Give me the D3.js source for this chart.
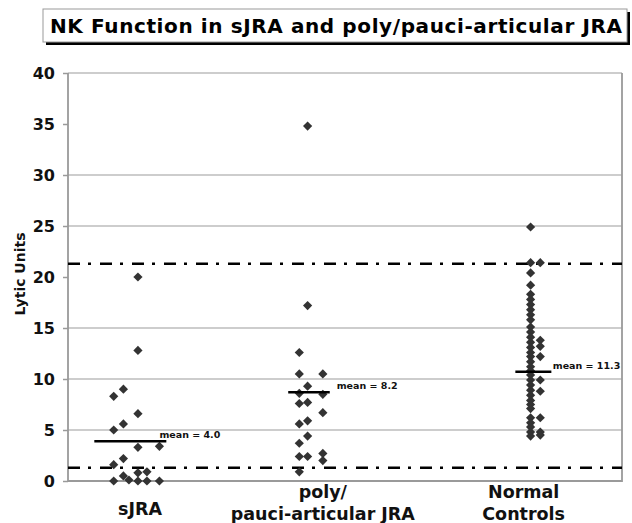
<!DOCTYPE html>
<html>
<head>
<meta charset="utf-8">
<script src="https://cdn.jsdelivr.net/npm/d3@7"></script>
<style>
  body { margin: 0; background: #fff; }
  svg { display: block; font-family: "DejaVu Sans", Verdana, sans-serif; }
</style>
</head>
<body>
<div id="chart"></div>
<script>
// values
const title = "NK Function in sJRA and poly/pauci-articular JRA";
const yLabel = "Lytic Units";
const yTicks = [0, 5, 10, 15, 20, 25, 30, 35, 40];
const gridValues = [5, 10, 15, 25, 30, 40];
const refLines = [21.3, 1.3];

const categories = [["sJRA"], ["poly/", "pauci-articular JRA"], ["Normal", "Controls"]];
const categoryX = [5.2, 18.4, 32.9];

// [x position (jitter), lytic units]
const sjra = [
  [5.05, 20.0], [5.05, 12.8], [4.0, 9.0], [3.3, 8.3], [5.05, 6.6], [4.0, 5.6],
  [3.3, 5.0], [5.05, 3.3], [6.6, 3.4], [4.0, 2.2], [3.3, 1.6], [4.0, 0.5],
  [4.4, 0.1], [5.05, 0.8], [5.7, 0.9], [3.3, 0], [5.05, 0], [5.7, 0], [6.6, 0]
];
const poly = [
  [17.3, 34.8], [17.3, 17.2], [16.7, 12.6], [16.7, 10.5], [18.4, 10.5], [17.3, 9.3],
  [16.7, 8.6], [18.4, 8.5], [16.7, 7.6], [17.3, 7.7], [18.4, 6.7], [16.7, 5.6],
  [17.3, 5.9], [17.3, 4.4], [16.7, 3.7], [16.7, 2.4], [17.3, 2.4], [18.4, 2.7],
  [18.4, 2.0], [16.7, 0.9]
];
const normal = [
  [33.4, 24.9], [33.4, 21.4], [33.4, 20.4], [33.4, 19.2], [33.4, 18.3], [33.4, 17.8],
  [33.4, 17.3], [33.4, 16.8], [33.4, 16.3], [33.4, 15.8], [33.4, 15.1], [33.4, 14.6],
  [33.4, 14.1], [33.4, 13.6], [33.4, 13.1], [33.4, 12.6], [33.4, 12.2], [33.4, 11.7],
  [33.4, 11.2], [33.4, 10.8], [33.4, 10.4], [33.4, 9.9], [33.4, 9.4], [33.4, 8.9],
  [33.4, 8.4], [33.4, 7.9], [33.4, 7.5], [33.4, 7.1], [33.4, 6.2], [33.4, 5.7],
  [33.4, 5.3], [33.4, 4.8], [33.4, 4.4],
  [34.1, 21.4], [34.1, 13.8], [34.1, 13.2], [34.1, 12.2], [34.1, 9.9], [34.1, 8.8],
  [34.1, 6.2], [34.1, 4.8], [34.1, 4.5]
];

const meanY = [3.9, 8.7, 10.7];
const meanX = [[1.9, 7.1], [15.9, 18.9], [32.3, 34.9]];
const meanLabelX = [6.6, 19.4, 35.0];
const meanLabels = ["mean = 4.0", "mean = 8.2", "mean = 11.3"];

const width = 632;
const height = 523;
const marginTop = 73;
const marginRight = 10;
const marginBottom = 42;
const marginLeft = 68;

const x = d3.scaleLinear()
    .domain([0, 40])
    .range([marginLeft, width - marginRight]);

const y = d3.scaleLinear()
    .domain([0, 40])
    .range([height - marginBottom, marginTop]);

const svg = d3.create("svg")
    .attr("width", width)
    .attr("height", height)
    .attr("viewBox", [0, 0, width, height]);

// title box with shadow
const tb = svg.append("g");
tb.append("rect")
    .attr("x", 46).attr("y", 12)
    .attr("width", 584).attr("height", 33)
    .attr("fill", "#000");
tb.append("rect")
    .attr("x", 43).attr("y", 9)
    .attr("width", 584).attr("height", 33)
    .attr("fill", "#fff")
    .attr("stroke", "#999")
    .attr("stroke-width", 1);
tb.append("text")
    .attr("x", 50).attr("y", 33)
    .attr("font-size", 20)
    .attr("font-weight", "bold")
    .attr("fill", "#000")
    .attr("textLength", 572)
    .attr("lengthAdjust", "spacing")
    .text(title);

// gridlines
svg.append("g")
    .attr("stroke", "#bdbdbd")
    .attr("stroke-width", 1.5)
    .selectAll("line")
    .data(gridValues)
    .join("line")
      .attr("x1", marginLeft).attr("x2", width - marginRight)
      .attr("y1", d => y(d)).attr("y2", d => y(d));

// frame: left, right, bottom
svg.append("path")
    .attr("fill", "none")
    .attr("stroke", "#9a9a9a")
    .attr("stroke-width", 1.8)
    .attr("d", `M${marginLeft},${y(40)}V${y(0)}H${width - marginRight}V${y(40)}`);

// y axis
svg.append("g")
    .attr("transform", `translate(${marginLeft},0)`)
    .call(d3.axisLeft(y).tickValues(yTicks).tickSize(5).tickPadding(8))
    .call(g => g.select(".domain").remove())
    .call(g => g.selectAll(".tick line").attr("stroke", "#9a9a9a").attr("stroke-width", 1.5))
    .call(g => g.selectAll(".tick text")
        .attr("font-family", "'DejaVu Sans', Verdana, sans-serif")
        .attr("font-size", 16)
        .attr("font-weight", "bold")
        .attr("fill", "#111"));

svg.append("text")
    .attr("transform", `translate(25,${y(20.3)}) rotate(-90)`)
    .attr("text-anchor", "middle")
    .attr("font-size", 14)
    .attr("font-weight", "bold")
    .attr("fill", "#111")
    .text(yLabel);

// dash-dot reference lines
svg.append("g")
    .attr("stroke", "#000")
    .attr("stroke-width", 2.6)
    .attr("stroke-dasharray", "12,8,3,9")
    .selectAll("line")
    .data(refLines)
    .join("line")
      .attr("x1", marginLeft).attr("x2", width - marginRight)
      .attr("y1", d => y(d)).attr("y2", d => y(d));

// points
const diamond = "M0,-4.6L4.6,0L0,4.6L-4.6,0Z";
svg.append("g")
    .attr("fill", "#333")
    .selectAll("path")
    .data([...sjra, ...poly, ...normal])
    .join("path")
      .attr("transform", d => `translate(${x(d[0])},${y(d[1])})`)
      .attr("d", diamond);

// mean lines and labels
svg.append("g")
    .attr("stroke", "#000")
    .attr("stroke-width", 2.5)
    .selectAll("line")
    .data(meanY)
    .join("line")
      .attr("x1", (d, i) => x(meanX[i][0]))
      .attr("x2", (d, i) => x(meanX[i][1]))
      .attr("y1", d => y(d)).attr("y2", d => y(d));

svg.append("g")
    .attr("font-size", 9.5)
    .attr("font-weight", "bold")
    .attr("fill", "#111")
    .selectAll("text")
    .data(meanLabels)
    .join("text")
      .attr("x", (d, i) => x(meanLabelX[i]))
      .attr("y", (d, i) => y(meanY[i]) - 3)
      .text(d => d);

// category labels
svg.append("g")
    .attr("font-size", 17.5)
    .attr("font-weight", "bold")
    .attr("fill", "#111")
    .attr("text-anchor", "middle")
    .selectAll("text")
    .data(categories)
    .join("text")
      .attr("x", (d, i) => x(categoryX[i]))
      .attr("y", d => d.length === 1 ? 515 : 498)
      .each(function(d, i) {
        d3.select(this).selectAll("tspan")
          .data(d)
          .join("tspan")
            .attr("x", x(categoryX[i]))
            .attr("dy", (t, j) => j === 0 ? 0 : 22)
            .text(t => t);
      });

d3.select("#chart").node().append(svg.node());
</script>
</body>
</html>
